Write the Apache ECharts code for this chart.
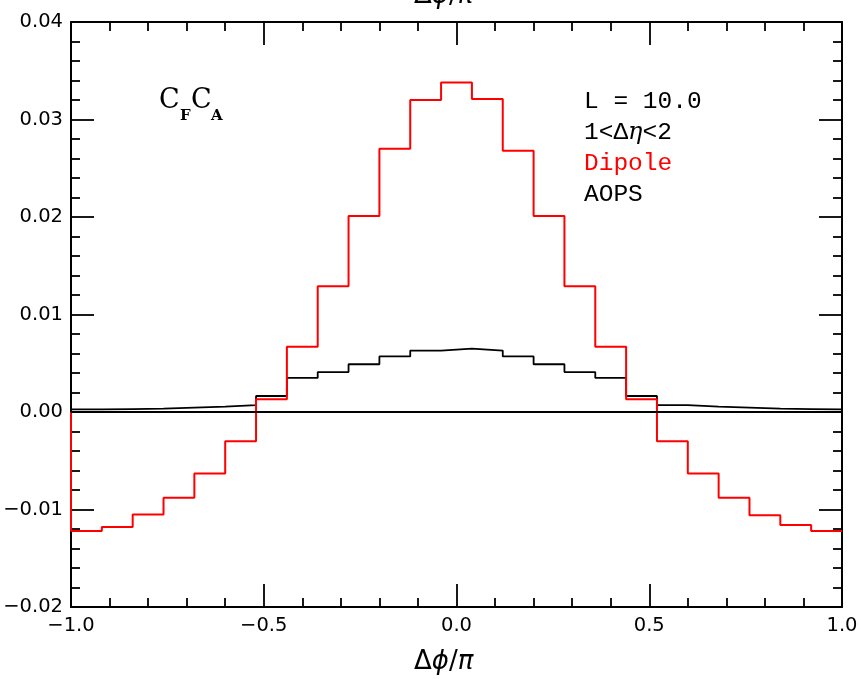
<!DOCTYPE html>
<html><head><meta charset="utf-8">
<script src="https://cdn.jsdelivr.net/npm/echarts@6/dist/echarts.min.js"></script>
<style>html,body{margin:0;padding:0;background:#fff}#c{width:862px;height:679px}</style>
</head><body><div id="c"></div>
<script>
// Bin left edges (width 0.08) and right end
const binEdges = [-1.00,-0.92,-0.84,-0.76,-0.68,-0.60,-0.52,-0.44,-0.36,-0.28,-0.20,-0.12,-0.04,0.04,0.12,0.20,0.28,0.36,0.44,0.52,0.60,0.68,0.76,0.84,0.92,1.00];
const dipole = [-0.0122,-0.0118,-0.0105,-0.0088,-0.0063,-0.0030,0.0013,0.0067,0.0129,0.0201,0.0270,0.0320,0.0338,0.0321,0.0268,0.0201,0.0129,0.0067,0.0013,-0.0030,-0.0063,-0.0088,-0.0106,-0.0116,-0.0122];
const aops = [0.00027,0.00030,0.00034,0.00044,0.00055,0.00070,0.00164,0.0035,0.0041,0.0049,0.0057,0.0063,0.0065,0.0063,0.0057,0.0049,0.0041,0.0035,0.00164,0.00070,0.00055,0.00044,0.00034,0.00030,0.00027];
const xTicks = [-1.0,-0.5,0.0,0.5,1.0];
const yTicks = [-0.02,-0.01,0.00,0.01,0.02,0.03,0.04];

function stepData(vals, startZero){
  const d = [];
  if (startZero) d.push([binEdges[0], 0]);
  for (let i=0;i<vals.length;i++) d.push([binEdges[i], vals[i]]);
  d.push([binEdges[binEdges.length-1], vals[vals.length-1]]);
  return d;
}
const fmt = v => { const s = Math.abs(v) < 1e-9 ? '0.00' : Math.abs(v).toFixed(2); return (v < -1e-9 ? '\u2212' : '') + s; };
const fmtX = v => { const s = Math.abs(v).toFixed(1); return (v < -1e-9 ? '\u2212' : '') + s; };

const labelFont = {fontFamily:'DejaVu Sans', fontSize:19.5, color:'#000'};
const tickStyle = {color:'#000', width:1.8};
function xAx(pos, show){
  return {type:'value', position:pos, min:-1, max:1, interval:0.5,
    axisLine:{show:true, onZero:false, lineStyle:{color:'#000', width:2}},
    axisTick:{show:true, inside:true, length:23, lineStyle:tickStyle},
    minorTick:{show:true, splitNumber:5, length:9, lineStyle:tickStyle},
    splitLine:{show:false}, minorSplitLine:{show:false},
    axisLabel:{show:show, margin:9, formatter:fmtX, ...labelFont}};
}
function yAx(pos, show){
  return {type:'value', position:pos, min:-0.02, max:0.04, interval:0.01,
    axisLine:{show:true, onZero:false, lineStyle:{color:'#000', width:2}},
    axisTick:{show:true, inside:true, length:23, lineStyle:tickStyle},
    minorTick:{show:true, splitNumber:5, length:9, lineStyle:tickStyle},
    splitLine:{show:false}, minorSplitLine:{show:false},
    axisLabel:{show:show, margin:8, formatter:fmt, ...labelFont}};
}
const titleRich = {n:{fontFamily:'DejaVu Sans', fontSize:26, fill:'#000'}, i:{fontFamily:'DejaVu Sans', fontStyle:'italic', fontSize:26, fill:'#000'}};
const mono = {fontFamily:'Liberation Mono', fontSize:24.5, verticalAlign:'middle'};
const big = {fontFamily:'DejaVu Serif', fontSize:27, fill:'#000', verticalAlign:'middle'};
const sub = {fontFamily:'DejaVu Serif', fontWeight:'bold', fontSize:15, fill:'#000', verticalAlign:'middle'};
const chart = echarts.init(document.getElementById('c'), null, {renderer:'canvas'});
chart.setOption({
  animation:false,
  backgroundColor:'#fff',
  grid:{left:71, right:20, top:22, bottom:72},
  xAxis:[xAx('bottom', true), xAx('top', false)],
  yAxis:[yAx('left', true), yAx('right', false)],
  series:[
    {type:'line', name:'AOPS', step:'end', showSymbol:false, symbol:'none', data:stepData(aops, true),
     lineStyle:{color:'#000', width:1.8}, z:3,
     markLine:{silent:true, symbol:'none', label:{show:false}, lineStyle:{color:'#000', width:1.8, type:'solid'}, data:[{yAxis:0}]}},
    {type:'line', name:'Dipole', step:'end', showSymbol:false, symbol:'none', data:stepData(dipole, true),
     lineStyle:{color:'#ff0000', width:2}, z:4}
  ],
  graphic:[
    {type:'text', x:414, y:-4, style:{text:'{n|Δ}{i|ϕ}{n|/}{i|π}', verticalAlign:'middle', rich:titleRich}},
    {type:'text', x:414, y:662, style:{text:'{n|Δ}{i|ϕ}{n|/}{i|π}', verticalAlign:'middle', rich:titleRich}},
    {type:'text', x:159, y:101, style:{text:'C', ...big}},
    {type:'text', x:180, y:116, style:{text:'F', ...sub}},
    {type:'text', x:191, y:101, style:{text:'C', ...big}},
    {type:'text', x:211, y:116, style:{text:'A', ...sub}},
    {type:'text', x:584, y:102, style:{text:'L = 10.0', ...mono, fill:'#000'}},
    {type:'text', x:584, y:133, style:{text:'1<Δ{i|η}<2', rich:{i:{fontFamily:'DejaVu Serif', fontStyle:'italic', fontSize:24, fill:'#000'}}, ...mono, fill:'#000'}},
    {type:'text', x:584, y:164, style:{text:'Dipole', ...mono, fill:'#ff0000'}},
    {type:'text', x:584, y:195, style:{text:'AOPS', ...mono, fill:'#000'}}
  ]
});
</script></body></html>
